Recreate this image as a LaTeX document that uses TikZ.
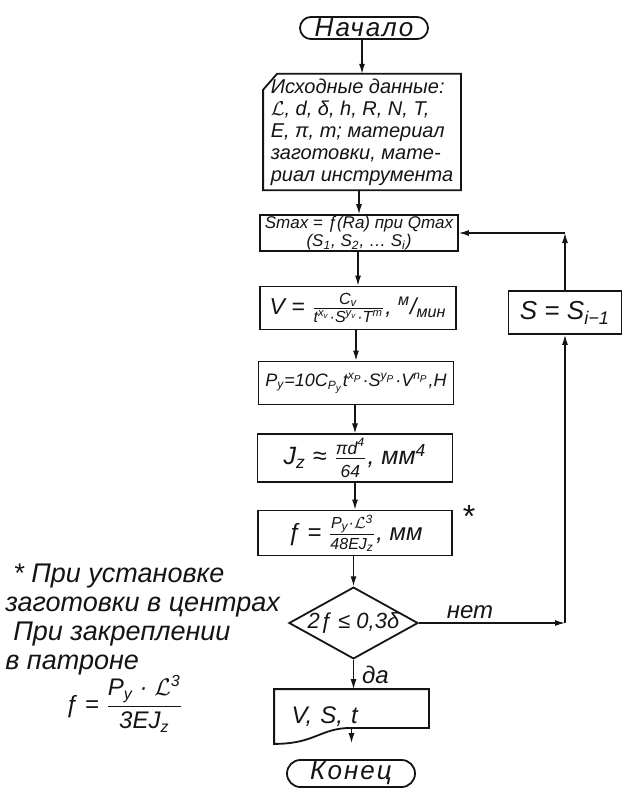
\documentclass[tikz,border=0pt]{standalone}
\usepackage{amsmath}
\usepackage{fontspec}
\setmainfont{Liberation Sans}
\usetikzlibrary{positioning,arrows.meta,calc,shapes.geometric,shapes.misc}
\definecolor{cInk}{HTML}{141414}
\newcommand\idx[1]{\textsubscript{#1}}
\newcommand\pw[1]{\textsuperscript{#1}}
\newcommand\bigfr[2]{$\genfrac{}{}{0.5pt}{0}{\text{#1}}{\text{#2}}$}
\newcommand\smallfr[2]{$\genfrac{}{}{0.5pt}{1}{\text{#1}}{\text{#2}}$}
\newcommand\Lc{$\mathcal{L}$}
\tikzset{
  base/.style={draw=cInk,line width=0.9pt,text=cInk,align=center,inner sep=2pt,font=\itshape\fontsize{10}{11}\selectfont},
  term/.style={base,rounded rectangle,minimum width=66pt,inner sep=1pt,font=\itshape\fontsize{13}{14}\selectfont\addfontfeatures{LetterSpace=8}},
  proc/.style={base,rectangle,minimum width=97.5pt,minimum height=21.5pt,inner xsep=1pt},
  inbox/.style={base,draw=none,minimum width=98pt,minimum height=56pt,align=left},
  dec/.style={base,diamond,aspect=1.8,minimum width=64pt,minimum height=35.5pt,inner sep=0pt,font=\itshape\fontsize{11}{12}\selectfont},
  docbox/.style={base,draw=none,minimum width=76.5pt,minimum height=26.5pt,text width=60pt,align=left,font=\itshape\fontsize{12}{13}\selectfont},
  outl/.style={draw=cInk,line width=0.9pt},
  arr/.style={-{Latex[length=5pt,width=3pt]},line width=0.6pt,draw=cInk},
  lbl/.style={text=cInk,font=\itshape\fontsize{12}{13}\selectfont,inner sep=1pt},
  note/.style={text=cInk,font=\itshape\fontsize{13.5}{14.5}\selectfont,align=left,inner sep=0pt}}
\begin{document}
\begin{tikzpicture}[x=0.5pt,y=-0.5pt]
\useasboundingbox (0,0) rectangle (635,804);
\node[term,minimum height=10.5pt] (start) at (364,28) {Начало};
\node[inbox] (inp) at (362,132) {Исходные данные:\\ \Lc, d, δ, h, R, N, T,\\ E, π, m; материал\\ заготовки, мате-\\ риал инструмента};
\draw[outl] ([yshift=-8pt]inp.north west) -- ([xshift=7pt]inp.north west) -- (inp.north east) -- (inp.south east) -- (inp.south west) -- cycle;
\node[proc,minimum width=99pt,minimum height=17pt,inner sep=0.5pt,font=\itshape\fontsize{8.5}{9}\selectfont] (smax) at (359,233) {Smax = ƒ(Ra) при Qmax\\ (S\idx{1}, S\idx{2}, … S\idx{i})};
\node[proc,minimum width=98pt,font=\itshape\fontsize{11.5}{12}\selectfont] (v) at (358,308) {V = \smallfr{C\idx{v}}{t\pw{x\idx{v}}·S\pw{y\idx{v}}·T\pw{m}}, \pw{м}/\idx{мин}};
\node[proc,font=\itshape\fontsize{9}{10}\selectfont] (py) at (356,383) {P\idx{y}=10C\idx{P\idx{y}}t\pw{x\idx{P}}·S\pw{y\idx{P}}·V\pw{n\idx{P}},Н};
\node[proc,minimum height=22pt,font=\itshape\fontsize{12.5}{13}\selectfont] (jz) at (355,458) {J\idx{z} ≈ \smallfr{πd\pw{4}\rule[-1.5pt]{0pt}{0pt}}{\rule{0pt}{8.5pt}64}, мм\pw{4}};
\node[proc,minimum width=97pt,minimum height=22.5pt,font=\itshape\fontsize{12}{13}\selectfont] (fb) at (355,533) {ƒ = \smallfr{P\idx{y}·\Lc\pw{3}}{48EJ\idx{z}}, мм};
\node[lbl,font=\fontsize{16}{16}\selectfont] (star) at (469,516) {*};
\node[dec] (dia) at (353.5,623) {2ƒ ≤ 0,3δ};
\node[docbox] (doc) at (351.5,716.5) {V, S, t};
\draw[outl] (doc.north west) -- (doc.north east) -- ([yshift=8pt]doc.south east) -- ([yshift=8pt]doc.south) .. controls ([xshift=-15.75pt,yshift=8pt]doc.south) and ([xshift=-18pt]doc.south) .. (doc.south west) -- cycle;
\node[term,minimum height=12.5pt] (end) at (351,773.5) {Конец};
\node[proc,minimum width=56.5pt,font=\itshape\fontsize{13}{14}\selectfont] (sbox) at (565,312.5) {S = S\idx{i−1}};
\coordinate (cnet) at (dia.east -| sbox.south);
\coordinate (cret) at (sbox.north |- smax.east);
\draw[arr] (inp.north |- start.south) -- (inp.north);
\draw[arr] (smax.north |- inp.south) -- (smax.north);
\draw[arr] (v.north |- smax.south) -- (v.north);
\draw[arr] (py.north |- v.south) -- (py.north);
\draw[arr] (jz.north |- py.south) -- (jz.north);
\draw[arr] (fb.north |- jz.south) -- (fb.north);
\draw[arr] (dia.north |- fb.south) -- (dia.north);
\draw[arr] (dia.south) -- node[lbl,right=3pt] {да} (dia.south |- doc.north);
\draw[arr] ([yshift=8pt]doc.south) -- ([yshift=8pt]doc.south |- end.north);
\draw[arr] (dia.east) -- node[lbl,above=1pt,pos=0.35] {нет} (cnet);
\draw[arr] (cnet) -- (sbox.south);
\draw[arr] (sbox.north) -- (cret);
\draw[arr] (cret) -- (smax.east);
\node[note,anchor=north west] (notes) at (5,564) {\hspace*{4pt}* При установке\\ заготовки в центрах\\ \hspace*{4pt}При закреплении\\ в патроне};
\node[note,font=\itshape\fontsize{12}{13}\selectfont] (fnote) at (124,704) {ƒ = \bigfr{P\idx{y} · \Lc\pw{3}}{3EJ\idx{z}}};
\end{tikzpicture}
\end{document}
